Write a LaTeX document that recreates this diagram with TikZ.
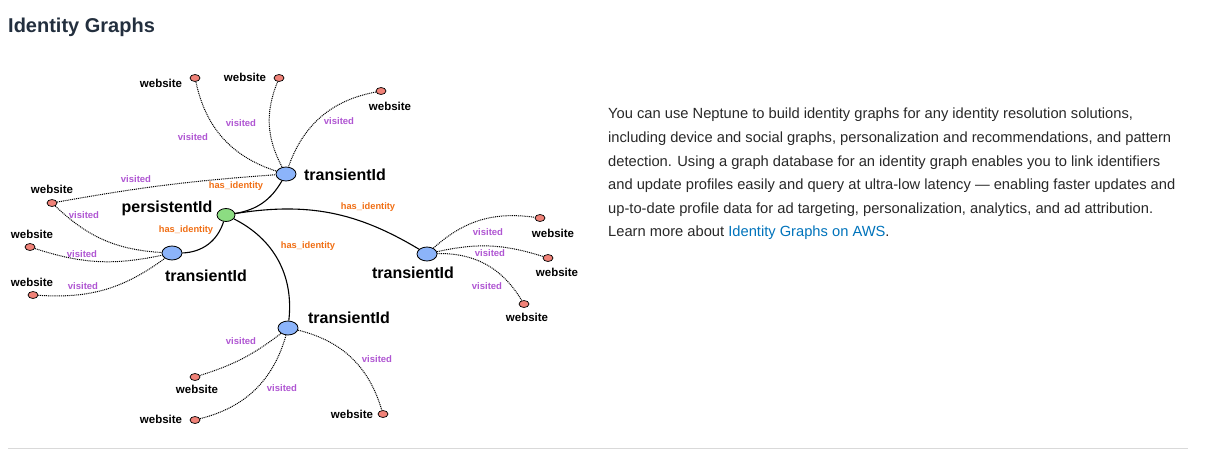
\documentclass[tikz,border=0pt]{standalone}
\usepackage{fontspec}
\setmainfont{Liberation Sans}
\usetikzlibrary{shapes.geometric}
\definecolor{tblue}{RGB}{140,180,250}
\definecolor{pgreen}{RGB}{140,220,130}
\definecolor{wred}{RGB}{240,130,120}
\definecolor{vpurple}{RGB}{175,85,210}
\definecolor{horange}{RGB}{240,110,20}
\definecolor{titlec}{RGB}{35,47,62}
\definecolor{bodyc}{RGB}{40,40,40}
\definecolor{linkc}{RGB}{0,115,187}
\tikzset{
  tid/.style={draw, ellipse, fill=tblue, minimum width=20pt, minimum height=14pt, inner sep=0pt, line width=0.8pt},
  pid/.style={draw, ellipse, fill=pgreen, minimum width=18pt, minimum height=13pt, inner sep=0pt, line width=0.8pt},
  web/.style={draw, ellipse, fill=wred, minimum width=10pt, minimum height=7pt, inner sep=0pt, line width=0.7pt},
  hid/.style={line width=1.1pt},
  vis/.style={line width=1pt, dash pattern=on 1pt off 0.9pt},
  bigl/.style={font=\bfseries\fontsize{16}{16}\selectfont, inner sep=0pt},
  wlbl/.style={font=\bfseries\fontsize{11.5}{12}\selectfont, inner sep=0pt},
  vlbl/.style={font=\bfseries\fontsize{9.5}{10}\selectfont, text=vpurple, inner sep=0pt},
  hlbl/.style={font=\bfseries\fontsize{9.3}{10}\selectfont, text=horange, inner sep=0pt},
  body/.style={align=left, font=\fontsize{14.7}{23.6}\selectfont, text=bodyc, inner sep=0pt},
}

\begin{document}
\begin{tikzpicture}[x=1pt, y=1pt]
\useasboundingbox (0,0) rectangle (1210,-450);

% Title
\node[anchor=base west, inner sep=0pt, text=titlec, font=\bfseries\fontsize{20}{20}\selectfont] (title) at (8,-32) {Identity Graphs};

% Vertices
\node[pid] (p) at (226,-215) {};
\node[tid] (t1) at (286,-174) {};
\node[tid] (t2) at (172,-253) {};
\node[tid] (t3) at (427,-254) {};
\node[tid] (t4) at (288,-328) {};

\node[web] (w1) at (195,-78) {};
\node[web] (w2) at (279,-78) {};
\node[web] (w3) at (381,-91) {};
\node[web] (w4) at (52,-203) {};
\node[web] (w5) at (30,-247) {};
\node[web] (w6) at (33,-295) {};
\node[web] (w7) at (540,-218) {};
\node[web] (w8) at (548,-258) {};
\node[web] (w9) at (524,-304) {};
\node[web] (w10) at (195,-377) {};
\node[web] (w11) at (195,-420) {};
\node[web] (w12) at (383,-414) {};

% Vertex labels
\node[bigl] (pl) at (167,-208) {persistentId};
\node[bigl] (t1l) at (345,-175) {transientId};
\node[bigl] (t2l) at (206,-276) {transientId};
\node[bigl] (t3l) at (413,-273) {transientId};
\node[bigl] (t4l) at (349,-318) {transientId};

\node[wlbl] (w1l) at (161,-83) {website};
\node[wlbl] (w2l) at (245,-77) {website};
\node[wlbl] (w3l) at (390,-106) {website};
\node[wlbl] (w4l) at (52,-189) {website};
\node[wlbl] (w5l) at (32,-234) {website};
\node[wlbl] (w6l) at (32,-282) {website};
\node[wlbl] (w7l) at (553,-233) {website};
\node[wlbl] (w8l) at (557,-272) {website};
\node[wlbl] (w9l) at (527,-317) {website};
\node[wlbl] (w10l) at (197,-389) {website};
\node[wlbl] (w11l) at (161,-419) {website};
\node[wlbl] (w12l) at (352,-414) {website};

% has_identity
\draw[hid] (p) to[bend right=25] (t1);
\draw[hid] (p) to[bend left=20] (t3);
\draw[hid] (p) to[bend left=35] (t2);
\draw[hid] (p) to[bend left=35] (t4);
\node[hlbl] (h1) at (236,-186) {has\_identity};
\node[hlbl] (h2) at (368,-207) {has\_identity};
\node[hlbl] (h3) at (186,-230) {has\_identity};
\node[hlbl] (h4) at (308,-246) {has\_identity};

% visited
\draw[vis] (w1) to[bend right=30] (t1);
\draw[vis] (w2) to[bend right=25] (t1);
\draw[vis] (w3) to[bend right=30] (t1);
\draw[vis] (w4) to[bend left=3] (t1);
\draw[vis] (w4) to[bend right=20] (t2);
\draw[vis] (w5) to[bend right=15] (t2);
\draw[vis] (w6) to[bend right=20] (t2);
\draw[vis] (t3) to[bend left=25] (w7);
\draw[vis] (t3) to[bend left=15] (w8);
\draw[vis] (t3) to[bend left=30] (w9);
\draw[vis] (t4) to[bend left=10] (w10);
\draw[vis] (t4) to[bend left=30] (w11);
\draw[vis] (t4) to[bend left=30] (w12);

\node[vlbl] (v1) at (193,-137) {visited};
\node[vlbl] (v2) at (241,-123) {visited};
\node[vlbl] (v3) at (339,-121) {visited};
\node[vlbl] (v4) at (136,-179) {visited};
\node[vlbl] (v5) at (84,-215) {visited};
\node[vlbl] (v6) at (82,-254) {visited};
\node[vlbl] (v7) at (83,-286) {visited};
\node[vlbl] (v8) at (488,-232) {visited};
\node[vlbl] (v9) at (490,-253) {visited};
\node[vlbl] (v10) at (487,-286) {visited};
\node[vlbl] (v11) at (241,-341) {visited};
\node[vlbl] (v12) at (282,-388) {visited};
\node[vlbl] (v13) at (377,-359) {visited};

% Description
\node[body, anchor=north west] (txt) at (608,-108) {You can use Neptune to build identity graphs for any identity resolution solutions,\\
including device and social graphs, personalization and recommendations, and pattern\\
detection. Using a graph database for an identity graph enables you to link identifiers\\
and update profiles easily and query at ultra-low latency — enabling faster updates and\\
up-to-date profile data for ad targeting, personalization, analytics, and ad attribution.\\
Learn more about {\color{linkc}Identity Graphs on AWS}.};

% Rule
\draw[gray!30, line width=0.8pt] (8,-448) -- (1188,-448);

\end{tikzpicture}
\end{document}
